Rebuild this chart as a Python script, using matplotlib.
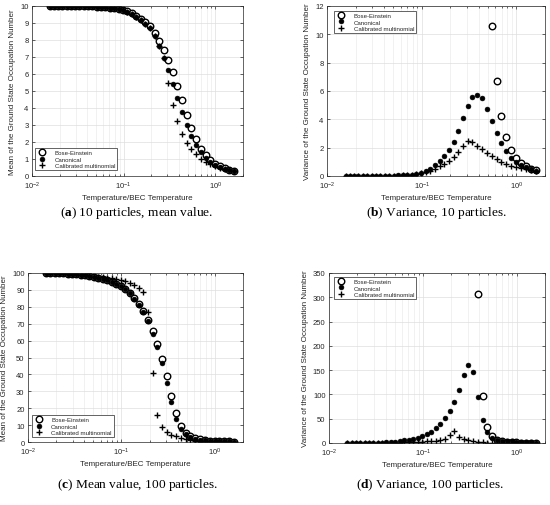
import numpy as np
import matplotlib
matplotlib.use('Agg')
import matplotlib.pyplot as plt
from matplotlib.ticker import MultipleLocator, LogLocator, NullFormatter

plt.rcParams['font.family'] = ['Liberation Sans', 'DejaVu Sans']
plt.rcParams['mathtext.fontset'] = 'custom'
plt.rcParams['mathtext.rm'] = 'Liberation Sans'
plt.rcParams['mathtext.bf'] = 'Liberation Serif:bold'

nan = np.nan

# temperature / BEC temperature (same grid in every panel)
temp = [0.0157, 0.0174, 0.0193, 0.0215, 0.0239, 0.0266, 0.0296, 0.0329, 0.0366, 0.0408,
        0.0455, 0.0507, 0.0565, 0.0631, 0.0704, 0.0787, 0.0879, 0.0982, 0.110, 0.123,
        0.137, 0.154, 0.172, 0.193, 0.217, 0.243, 0.272, 0.306, 0.343, 0.386,
        0.433, 0.487, 0.548, 0.616, 0.694, 0.782, 0.880, 0.992, 1.12, 1.26,
        1.42, 1.61]

# (a) mean, 10 particles
mean10_be = [10.0, 10.0, 10.0, 10.0, 10.0, 10.0, 10.0, 9.99, 9.99, 9.98,
             9.98, 9.97, 9.96, 9.94, 9.91, 9.88, 9.83, 9.77, 9.68, 9.56,
             9.42, 9.24, 9.03, 8.80, 8.41, 7.96, 7.43, 6.85, 6.10, 5.30,
             4.45, 3.57, 2.80, 2.15, 1.60, 1.23, 0.95, 0.73, 0.57, 0.46,
             0.37, 0.30]
mean10_can = [10.0, 10.0, 10.0, 10.0, 10.0, 10.0, 10.0, 9.99, 9.99, 9.98,
              9.98, 9.97, 9.96, 9.94, 9.91, 9.87, 9.82, 9.75, 9.65, 9.52,
              9.37, 9.17, 8.95, 8.68, 8.22, 7.63, 6.94, 6.25, 5.42, 4.58,
              3.75, 2.98, 2.35, 1.82, 1.40, 1.08, 0.84, 0.66, 0.53, 0.43,
              0.35, 0.28]
mean10_mult = [10.0, 10.0, 10.0, 10.0, 10.0, 10.0, 10.0, 9.99, 9.99, 9.98,
               9.98, 9.97, 9.96, 9.94, 9.91, 9.87, 9.82, 9.75, 9.65, 9.52,
               9.37, 9.17, 8.95, 8.68, 8.22, 7.63, 6.95, 5.50, 4.20, 3.22,
               2.48, 1.96, 1.57, 1.29, 1.02, 0.82, 0.68, 0.57, 0.48, 0.40,
               0.34, 0.29]

# (b) variance, 10 particles (Bose-Einstein off scale at low T)
var10_be = [nan] * 32 + [10.6, 6.69, 4.23, 2.75, 1.85, 1.27, 0.92, 0.68, 0.52, 0.40]
var10_can = [0.0, 0.0, 0.0, 0.0, 0.0, 0.0, 0.01, 0.01, 0.01, 0.02,
             0.02, 0.03, 0.04, 0.05, 0.07, 0.10, 0.15, 0.22, 0.33, 0.50,
             0.78, 1.05, 1.38, 1.84, 2.41, 3.18, 4.07, 4.91, 5.56, 5.75,
             5.49, 4.74, 3.87, 3.03, 2.32, 1.74, 1.28, 1.02, 0.80, 0.62,
             0.50, 0.38]
var10_mult = [0.0, 0.0, 0.0, 0.0, 0.0, 0.0, 0.01, 0.01, 0.01, 0.01,
              0.02, 0.02, 0.03, 0.04, 0.06, 0.09, 0.13, 0.19, 0.27, 0.38,
              0.52, 0.70, 0.88, 1.07, 1.37, 1.71, 2.13, 2.45, 2.42, 2.15,
              1.90, 1.62, 1.39, 1.20, 1.02, 0.86, 0.73, 0.62, 0.53, 0.46,
              0.40, 0.35]

# (c) mean, 100 particles
mean100_be = [100.0, 100.0, 99.9, 99.9, 99.8, 99.7, 99.5, 99.3, 99.0, 98.7,
              98.3, 97.8, 97.3, 96.6, 95.8, 94.8, 93.7, 92.4, 90.6, 88.3,
              85.2, 81.7, 77.4, 72.1, 65.6, 58.0, 49.1, 38.9, 27.5, 16.9,
              9.3, 5.4, 3.3, 2.2, 1.55, 1.15, 0.87, 0.68, 0.54, 0.43,
              0.35, 0.29]
mean100_can = [100.0, 100.0, 99.9, 99.9, 99.8, 99.7, 99.5, 99.3, 99.0, 98.7,
               98.3, 97.8, 97.2, 96.5, 95.7, 94.7, 93.6, 92.2, 90.4, 88.0,
               84.8, 81.3, 77.0, 71.7, 64.2, 56.4, 46.6, 35.2, 23.4, 13.7,
               7.8, 4.5, 2.8, 1.8, 1.3, 0.95, 0.72, 0.56, 0.45, 0.37,
               0.31, 0.26]
mean100_mult = [100.0, 100.0, 99.9, 99.9, 99.8, 99.7, 99.5, 99.3, 99.0, 98.7,
                98.3, 97.9, 97.6, 97.4, 97.2, 96.9, 96.5, 95.9, 95.0, 94.0,
                92.7, 91.2, 88.8, 77.2, 40.7, 15.9, 8.8, 5.9, 4.3, 3.3,
                2.4, 1.6, 1.1, 0.8, 0.6, 0.5, 0.42, 0.36, 0.31, 0.27,
                0.24, 0.22]

# (d) variance, 100 particles
var100_be = [nan] * 29 + [306.0, 96.2, 33.0, 13.7, 6.9, 4.0, 2.5, 1.6, 1.15, 0.85,
                          0.62, 0.48, 0.38]
var100_can = [0.05, 0.07, 0.1, 0.12, 0.15, 0.25, 0.4, 0.6, 0.9, 1.4,
              2.0, 2.9, 4.0, 5.3, 6.9, 8.8, 11.0, 13.7, 17.8, 23.3,
              30.9, 39.0, 51.5, 66.7, 85.0, 110.0, 139.0, 161.0, 147.0, 94.2,
              46.7, 22.0, 10.3, 6.9, 4.6, 3.9, 3.2, 2.5, 2.0, 1.6,
              1.3, 1.0]
var100_mult = [0.02, 0.03, 0.04, 0.05, 0.06, 0.08, 0.12, 0.18, 0.25, 0.35,
               0.5, 0.65, 0.85, 1.1, 1.4, 1.8, 2.2, 2.7, 3.3, 4.1,
               5.0, 6.4, 8.8, 16.0, 24.0, 13.0, 8.2, 5.4, 3.6, 2.3,
               1.5, 1.0, 0.7, 0.5, 0.4, 0.3, 0.25, 0.2, 0.17, 0.14,
               0.12, 0.1]

labels = ['Bose-Einstein', 'Canonical', 'Calibrated multinomial']
mean_label = 'Mean of the Ground State Occupation Number'
var_label = 'Variance of the Ground State Occupation Number'
dark = '#262626'

fig = plt.figure(figsize=(5.5, 5.06), dpi=100)

W, H = 550.0, 506.0
def add_ax(l, r, t, b):
    return fig.add_axes([l / W, 1 - b / H, (r - l) / W, (b - t) / H])

def panel(ax, be, can, mult, ylab, ymax, ystep, legloc, anchor):
    ax.plot(temp, be, ls='none', marker='o', ms=4.7, mfc='white', mec='black', mew=1.0,
            label=labels[0])
    ax.plot(temp, can, ls='none', marker='o', ms=3.5, mfc='black', mec='black', mew=0.4,
            label=labels[1])
    ax.plot(temp, mult, ls='none', marker='+', ms=4.5, mec='black', mew=1.0,
            label=labels[2])
    ax.set_xscale('log')
    ax.set_xlim(0.01, 2)
    ax.set_ylim(0, ymax)
    ax.yaxis.set_major_locator(MultipleLocator(ystep))
    ax.xaxis.set_major_locator(LogLocator(base=10))
    ax.xaxis.set_minor_locator(LogLocator(base=10, subs=np.arange(2, 10)))
    ax.xaxis.set_minor_formatter(NullFormatter())
    ax.grid(True, which='major', color='#dedede', lw=0.5)
    ax.grid(True, which='minor', axis='x', color='#ececec', lw=0.5)
    ax.set_axisbelow(True)
    ax.tick_params(which='both', direction='in', top=True, right=True,
                   labelsize=5.5, colors=dark, width=0.5, pad=2.5)
    ax.tick_params(which='major', length=2.5)
    ax.tick_params(which='minor', length=1.5)
    for s in ax.spines.values():
        s.set_linewidth(0.5)
        s.set_color(dark)
    ax.set_xlabel('Temperature/BEC Temperature', fontsize=5.8, color=dark, labelpad=2)
    ax.set_ylabel(ylab, fontsize=5.8, color=dark, labelpad=3)
    leg = ax.legend(loc=legloc, bbox_to_anchor=anchor, borderaxespad=0, fontsize=4.4,
                    fancybox=False, edgecolor=dark, framealpha=1, numpoints=1,
                    handlelength=1.8, handletextpad=1.1, labelspacing=0.18,
                    borderpad=0.3)
    leg.get_frame().set_linewidth(0.5)
    for t in leg.get_texts():
        t.set_color(dark)

ax_a = add_ax(32, 243, 7, 177)
panel(ax_a, mean10_be, mean10_can, mean10_mult, mean_label, 10, 1,
      'lower left', (0.014, 0.035))
ax_b = add_ax(327, 545, 7, 177)
panel(ax_b, var10_be, var10_can, var10_mult, var_label, 12, 2,
      'upper left', (0.032, 0.97))
ax_c = add_ax(28, 243, 274, 443)
panel(ax_c, mean100_be, mean100_can, mean100_mult, mean_label, 100, 10,
      'lower left', (0.017, 0.03))
ax_d = add_ax(329, 545, 274, 444)
panel(ax_d, var100_be, var100_can, var100_mult, var_label, 350, 50,
      'upper left', (0.023, 0.976))

caps = [(137, 213, r'($\mathbf{a}$) 10 particles, mean value.'),
        (437, 213, r'($\mathbf{b}$) Variance, 10 particles.'),
        (137, 485, r'($\mathbf{c}$) Mean value, 100 particles.'),
        (430, 485, r'($\mathbf{d}$) Variance, 100 particles.')]
for x, y, s in caps:
    fig.text(x / W, 1 - y / H, s, ha='center', va='center', fontsize=9.6,
             family=['Liberation Serif', 'DejaVu Serif'], color='black')

fig.savefig('out.png', dpi=100)
